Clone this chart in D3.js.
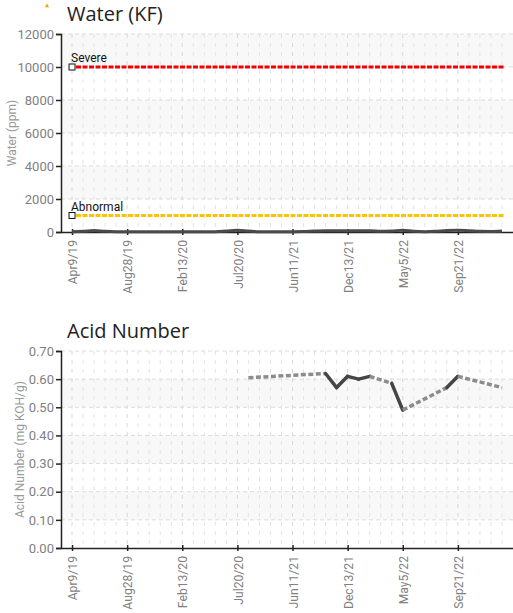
<!DOCTYPE html>
<html lang="en">
<head>
    <meta charset="UTF-8">
    <title>Oil analysis</title>
    <script src="https://d3js.org/d3.v7.min.js"></script>
    <style>
        body { margin: 0; background: #fff; }
        .tick text { font-family: "Roboto", sans-serif; }
    </style>
</head>
<body>
<div id="chart"></div>
<script>
    // sample dates, one every sample, only every 5th gets a label
    const tickLabels = ["Apr9/19", "Aug28/19", "Feb13/20", "Jul20/20", "Jun11/21", "Dec13/21", "May5/22", "Sep21/22"]
    const N_SAMPLES = 40

    // water KF (ppm), one value per sample
    const water = [20, 40, 90, 40, 20, 20, 20, 20, 20, 20,
                   20, 20, 20, 20, 60, 110, 60, 20, 20, 20,
                   20, 30, 60, 80, 80, 80, 80, 80, 40, 60,
                   110, 40, 20, 40, 90, 100, 80, 40, 30, 60]
    const waterLimits = [
        { name: "Severe", value: 10000, color: "#f00000" },
        { name: "Abnormal", value: 1000, color: "#f7c600" }
    ]
    const waterTicks = [0, 2000, 4000, 6000, 8000, 10000, 12000]

    // acid number (mg KOH/g), null where no result
    const acid = [null, null, null, null, null, null, null, null, null, null,
                  null, null, null, null, null, null, 0.605, null, null, null,
                  null, null, null, 0.62, 0.57, 0.61, 0.60, 0.61, null, 0.585,
                  0.49, null, null, null, 0.57, 0.61, null, null, null, 0.57]
    const acidTicks = [0, 0.1, 0.2, 0.3, 0.4, 0.5, 0.6, 0.7]

    const W = 513, H = 613
    const svg = d3.select("#chart").append("svg")
        .attr("width", W).attr("height", H)

    // small marker top left
    svg.append("path")
        .attr("d", d3.symbol(d3.symbolTriangle, 8)())
        .attr("transform", "translate(47,6)")
        .attr("fill", "#f0a800")

    const x = d3.scaleLinear().domain([-1, 40]).range([61, 513])

    function drawChart(opt) {
        const g = svg.append("g")
        const y = d3.scaleLinear().domain([0, opt.max]).range([opt.bottom, opt.top])

        // title
        g.append("text")
            .attr("x", 67).attr("y", opt.top - 13)
            .attr("font-family", "Open Sans, sans-serif")
            .attr("font-size", "20px")
            .attr("fill", "#222")
            .text(opt.title)

        // alternating bands
        const ticks = opt.ticks
        for (let i = 0; i < ticks.length - 1; i++) {
            if (i % 2 == 1) {
                g.append("rect")
                    .attr("x", x(-1)).attr("width", x(40) - x(-1))
                    .attr("y", y(ticks[i + 1])).attr("height", y(ticks[i]) - y(ticks[i + 1]))
                    .attr("fill", "#f8f8f8")
            }
        }

        // vertical grid, every sample
        g.selectAll(".vgrid").data(d3.range(0, N_SAMPLES)).enter().append("line")
            .attr("class", "vgrid")
            .attr("x1", d => x(d)).attr("x2", d => x(d))
            .attr("y1", opt.top).attr("y2", opt.bottom)
            .attr("stroke", d => d % 5 == 0 ? "#d8d8d8" : "#e4e4e4")
            .attr("stroke-dasharray", "4,5")

        // horizontal grid
        g.selectAll(".hgrid").data(ticks.slice(1)).enter().append("line")
            .attr("class", "hgrid")
            .attr("x1", x(-1)).attr("x2", x(40))
            .attr("y1", d => y(d)).attr("y2", d => y(d))
            .attr("stroke", "#dcdcdc")
            .attr("stroke-dasharray", "4,3")

        // y axis
        const yAxis = g.append("g")
            .attr("transform", `translate(${x(-1)},0)`)
            .call(d3.axisLeft(y).tickValues(ticks).tickFormat(opt.fmt).tickSize(5).tickPadding(2))
        yAxis.select(".domain").attr("stroke", "#222").attr("stroke-width", 1.5)
        yAxis.selectAll(".tick line").attr("stroke", "#222").attr("stroke-width", 1.5)
        yAxis.selectAll(".tick text").attr("fill", "#808080").attr("font-size", "13px")

        // x axis
        const xAxis = g.append("g")
            .attr("transform", `translate(0,${opt.bottom})`)
            .call(d3.axisBottom(x).tickValues(d3.range(0, 40, 5))
                .tickFormat((d, i) => tickLabels[i]).tickSize(0).tickSizeOuter(0).tickPadding(0))
        xAxis.select(".domain").attr("stroke", "#222").attr("stroke-width", 1.5)
        xAxis.selectAll(".tick").append("line")
            .attr("y1", -3).attr("y2", 3)
            .attr("stroke", "#222").attr("stroke-width", 1.5)
        xAxis.selectAll(".tick text")
            .attr("fill", "#808080").attr("font-size", "13.5px")
            .attr("text-anchor", "end")
            .attr("dy", "0.35em")
            .attr("transform", "translate(0,8) rotate(-90) scale(0.9,1)")

        // y axis label
        g.append("text")
            .attr("transform", `translate(${opt.labelX},${(opt.top + opt.bottom) / 2}) rotate(-90)`)
            .attr("text-anchor", "middle")
            .attr("font-family", "Roboto, sans-serif")
            .attr("font-size", "12px")
            .attr("fill", "#999")
            .text(opt.yLabel)

        return { g, y }
    }

    // ---- Water (KF)
    const w = drawChart({ title: "Water (KF)", top: 34, bottom: 232, max: 12000, ticks: waterTicks,
        fmt: d3.format("d"), yLabel: "Water (ppm)", labelX: 16 })

    waterLimits.forEach(l => {
        w.g.append("line")
            .attr("x1", x(0) + 4).attr("x2", x(39) + 2)
            .attr("y1", w.y(l.value)).attr("y2", w.y(l.value))
            .attr("stroke", l.color).attr("stroke-width", 3)
            .attr("stroke-dasharray", "5,1.5")
        w.g.append("rect")
            .attr("x", x(0) - 3).attr("y", w.y(l.value) - 3)
            .attr("width", 6).attr("height", 6)
            .attr("fill", "#fff").attr("stroke", "#111").attr("stroke-width", 1)
        w.g.append("text")
            .attr("x", x(0) - 1).attr("y", w.y(l.value) - 5)
            .attr("font-family", "Roboto, sans-serif")
            .attr("font-size", "12px")
            .attr("fill", "#111")
            .text(l.name)
    })

    w.g.append("path")
        .datum(water)
        .attr("fill", "none")
        .attr("stroke", "#4a4a4a")
        .attr("stroke-width", 3)
        .attr("d", d3.line().x((d, i) => x(i)).y(d => w.y(d)).curve(d3.curveMonotoneX))

    // ---- Acid Number
    const a = drawChart({ title: "Acid Number", top: 351, bottom: 548, max: 0.7, ticks: acidTicks,
        fmt: d3.format(".2f"), yLabel: "Acid Number (mg KOH/g)", labelX: 24 })

    // solid where samples are consecutive, dashed across missing samples
    const pts = acid.map((v, i) => ({ i, v })).filter(d => d.v != null)
    for (let k = 0; k < pts.length - 1; k++) {
        const p = pts[k], q = pts[k + 1]
        const gap = q.i - p.i > 1
        a.g.append("line")
            .attr("x1", x(p.i)).attr("y1", a.y(p.v))
            .attr("x2", x(q.i)).attr("y2", a.y(q.v))
            .attr("stroke", gap ? "#8c8c8c" : "#454545")
            .attr("stroke-width", 3.5)
            .attr("stroke-linecap", gap ? "butt" : "round")
            .attr("stroke-dasharray", gap ? "5,2.5" : null)
    }
</script>
</body>
</html>
